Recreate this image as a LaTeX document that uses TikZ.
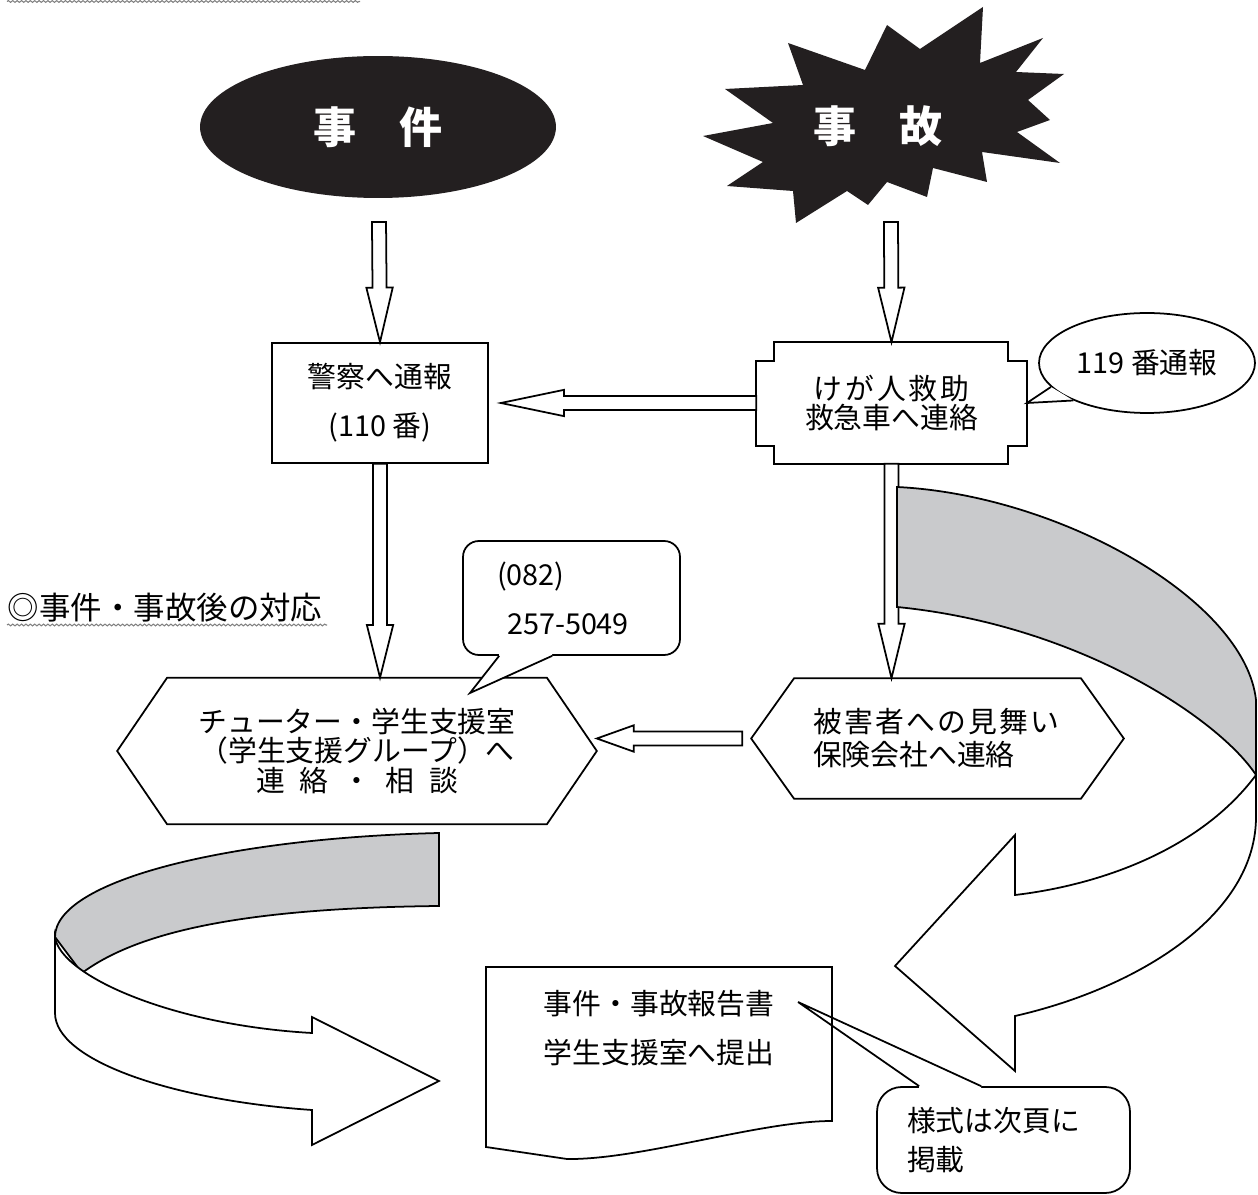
\documentclass[tikz,border=0pt]{standalone}
\usepackage{fontspec}
\setmainfont{Noto Sans CJK JP}
\usetikzlibrary{shapes.geometric,calc,decorations.pathmorphing}
\definecolor{inkblack}{RGB}{35,31,32}
\definecolor{ribgray}{RGB}{201,202,204}

% hollow block arrow: start, target, head length
\newcommand{\hollowarrow}[3]{%
  \coordinate (ha-base) at ($(#2)!#3!(#1)$);
  \draw[fill=white] ($(#1)!4pt!90:(#2)$) -- ($(ha-base)!4pt!-90:(#1)$)
    -- ($(ha-base)!7.5pt!-90:(#1)$) -- (#2) -- ($(ha-base)!7.5pt!90:(#1)$)
    -- ($(ha-base)!4pt!90:(#1)$) -- ($(#1)!4pt!-90:(#2)$) -- cycle;
}
\newcommand{\spaced}[2]{{\addfontfeature{LetterSpace=#1}#2}}

\begin{document}
\begin{tikzpicture}[x=0.02cm, y=-0.02cm, line width=1pt,
    every node/.style={inner sep=0pt},
    txt/.style={font=\fontsize{16.4}{#1}\selectfont, align=center},
    bigtxt/.style={font=\fontsize{24.5}{26}\selectfont\bfseries, text=white},
    wavy/.style={gray, line width=0.6pt, decorate,
      decoration={snake, amplitude=0.5pt, segment length=2.5pt}}]

  \useasboundingbox (0,0) rectangle (1258,1195);

  \draw[wavy] (7,1.5) -- (360,1.5);

  % incident and accident
  \node[ellipse, fill=inkblack, minimum width=7.12cm, minimum height=2.84cm, bigtxt] (jiken) at (378,127) {事\hspace{1em}件};
  \fill[inkblack] (788,43) -- (865,70) -- (887,25) -- (920,49) -- (983,7) -- (980,63)
    -- (1043,38) -- (1016,72) -- (1064,74) -- (1028,100) -- (1050,120) -- (1017,132)
    -- (1060,163) -- (982,152) -- (987,182) -- (933,168) -- (927,197) -- (887,182)
    -- (868,205) -- (847,191) -- (796,223) -- (793,191) -- (727,186) -- (763,162)
    -- (703,136) -- (773,123) -- (725,89) -- (803,85) -- cycle;
  \node[bigtxt] (jiko) at (878,126) {事\hspace{1em}故};
  \coordinate (jiken-out) at (379,222);
  \coordinate (jiko-out) at (891,222);

  % first reports
  \node[draw, minimum width=4.32cm, minimum height=2.4cm, txt=27.8pt] (keisatsu) at (380,403) {警察へ通報\\(110 番)};
  \node[minimum width=5.38cm, minimum height=2.4cm, txt=17pt] (kega) at (891.5,403) {\spaced{10}{けが人救助}\\救急車へ連絡};
  \draw ($(kega.north west)+(18,0)$) -| ($(kega.north east)+(-19,19)$)
    -| ($(kega.south east)+(0,-18)$) -| ($(kega.south east)+(-19,0)$)
    -| ($(kega.south west)+(18,-18)$) -| ($(kega.north west)+(0,19)$)
    -| ($(kega.north west)+(18,0)$) -- cycle;

  \node[ellipse, draw, minimum width=4.32cm, minimum height=2cm, txt=17pt] (call119) at (1147,363) {119 番通報};
  \fill[white] (call119.194) -- (kega.east) -- (call119.207) -- cycle;
  \draw (call119.194) -- (kega.east) -- (call119.207);

  \hollowarrow{jiken-out}{keisatsu.north}{31pt}
  \hollowarrow{jiko-out}{kega.north}{31pt}
  \coordinate (keisatsu-in) at ($(keisatsu.east)+(12,0)$);
  \hollowarrow{kega.west}{keisatsu-in}{36pt}

  % follow-up
  \node[font=\fontsize{17.9}{20}\selectfont, anchor=west] (heading) at (7,608) {◎事件・事故後の対応};
  \draw[wavy] (7,625) -- (327,625);

  \node[minimum width=9.56cm, minimum height=2.9cm, txt=17pt] (tutor) at (357,751) {チューター・学生支援室\\（学生支援グループ）へ\\連\enspace 絡\enspace ・\enspace 相\enspace 談};
  \draw (tutor.west) -- ($(tutor.north west)+(50,0)$) -- ($(tutor.north east)+(-50,0)$)
    -- (tutor.east) -- ($(tutor.south east)+(-50,0)$) -- ($(tutor.south west)+(50,0)$) -- cycle;

  \node[minimum width=7.42cm, minimum height=2.38cm, txt=18.7pt, text width=4.98cm, align=left] (higai) at (937.5,738.5) {\spaced{8}{被害者への見舞い}\\保険会社へ連絡};
  \draw (higai.west) -- ($(higai.north west)+(43,0)$) -- ($(higai.north east)+(-43,0)$)
    -- (higai.east) -- ($(higai.south east)+(-43,0)$) -- ($(higai.south west)+(43,0)$) -- cycle;

  \coordinate (tutor-in) at (keisatsu.south |- tutor.north);
  \hollowarrow{keisatsu.south}{tutor-in}{30pt}
  \coordinate (higai-in) at (kega.south |- higai.north);
  \hollowarrow{kega.south}{higai-in}{31pt}
  \coordinate (higai-out) at ($(higai.west)+(-9,0)$);
  \coordinate (tutor-side) at (tutor.east |- higai.west);
  \hollowarrow{higai-out}{tutor-side}{21pt}

  % phone callout
  \node[draw, fill=white, rounded corners=9pt, minimum width=4.34cm, minimum height=2.28cm, txt=27.8pt, text width=2.98cm, align=left] (tel) at (571.5,598) {(082)\\\hspace*{5.7pt}257-5049};
  \coordinate (tel-b1) at ($(tel.south west)+(37,0)$);
  \coordinate (tel-b2) at ($(tel.south west)+(90,0)$);
  \coordinate (tel-tip) at (470,693);
  \fill[white] (tel-b1) -- (tel-tip) -- (tel-b2) -- ($(tel-b2)+(0,-3)$) -- ($(tel-b1)+(0,-3)$) -- cycle;
  \draw (tel-b1) -- (tel-tip) -- (tel-b2);

  % curved ribbons
  \filldraw[fill=ribgray] (897,487) .. controls (1060,495) and (1245,600) .. (1256,700)
    -- (1256,775) .. controls (1220,720) and (1080,625) .. (897,607) -- cycle;
  \filldraw[fill=white] (1256,775) -- (1256,819) .. controls (1254,920) and (1130,990) .. (1015,1016)
    -- (1015,1071) -- (895,966) -- (1015,835) -- (1015,895)
    .. controls (1100,885) and (1200,850) .. (1256,775) -- cycle;

  \filldraw[fill=ribgray] (439,833) .. controls (230,838) and (55,880) .. (55,937)
    -- (82,973) .. controls (140,930) and (250,908) .. (439,906) -- cycle;
  \filldraw[fill=white] (55,937) -- (55,1013) .. controls (55,1060) and (170,1100) .. (312,1110)
    -- (312,1145) -- (439,1081) -- (312,1017) -- (312,1033)
    .. controls (170,1025) and (60,975) .. (55,937) -- cycle;

  % report
  \node[draw, fill=white, rounded corners=14pt, minimum width=5.06cm, minimum height=2.12cm, txt=22.7pt, text width=3.86cm, align=left] (yoshiki) at (1003.5,1140) {様式は次頁に\\掲載};
  \coordinate (ys-b1) at ($(yoshiki.north west)+(43,0)$);
  \coordinate (ys-b2) at ($(yoshiki.north west)+(105,0)$);
  \coordinate (ys-tip) at (798,1002);
  \fill[white] (ys-b1) -- (ys-tip) -- (ys-b2) -- ($(ys-b2)+(0,3)$) -- ($(ys-b1)+(0,3)$) -- cycle;
  \draw (ys-b1) -- (ys-tip) -- (ys-b2);

  \node[txt=27.8pt] (report) at (659,1028) {事件・事故報告書\\学生支援室へ提出};
  \draw (486,967) -- (832,967) -- (832,1121) .. controls (760,1121) and (640,1160) .. (567,1159)
    -- (486,1147) -- cycle;
\end{tikzpicture}
\end{document}
